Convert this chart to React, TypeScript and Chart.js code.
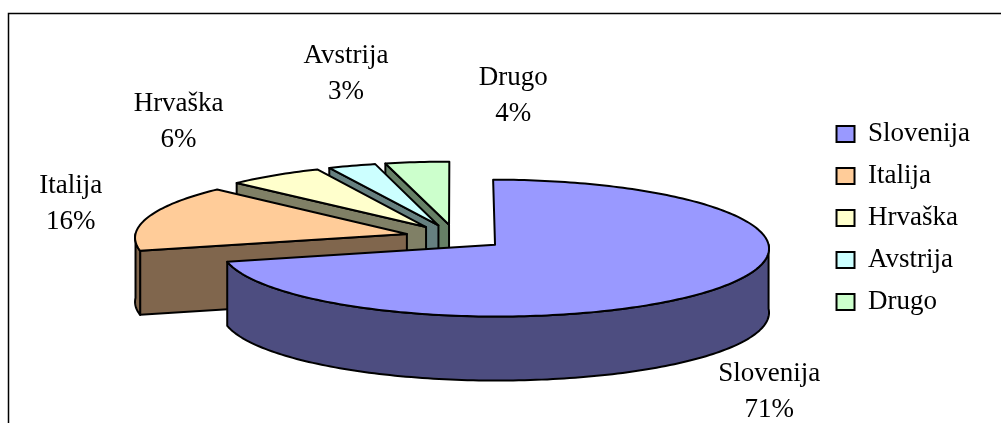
import { useEffect, useRef } from "react";
import { Chart, registerables } from "chart.js";

Chart.register(...registerables);

const categories = ["Slovenija", "Italija", "Hrvaška", "Avstrija", "Drugo"];
const shares = [71, 16, 6, 3, 4];
const topColors = ["#9999FF", "#FFCC99", "#FFFFCC", "#CCFFFF", "#CCFFCC"];
const wallColors = ["#4D4D80", "#80664D", "#808066", "#668080", "#668066"];
// Distance of each label from the middle of its slice's rim.
const labelNudgeX = [50, -77, -96, -6, 96];
const labelNudgeY = [104, -14, -53, -92, -66];

const FONT = '27px "Liberation Serif"';
const RADIUS_X = 272;
const RADIUS_Y = 67.5;
const EXPLODE = 0.184;
const DEPTH = 64;
const PERSPECTIVE = 0.05;
const CENTER_DROP = 19;

type Pt = [number, number];

const pie3d = {
  id: "pie3d",
  beforeDraw(chart: any) {
    const { ctx } = chart;
    ctx.save();
    ctx.strokeStyle = "#000";
    ctx.lineWidth = 1.5;
    ctx.strokeRect(8.5, 13.5, 1200, 600);
    ctx.restore();
  },
  beforeDatasetsDraw(chart: any) {
    const { ctx } = chart;
    const arcs = chart.getDatasetMeta(0).data as any[];

    const mapper = (arc: any) => {
      const mid = (arc.startAngle + arc.endAngle) / 2;
      const ox = EXPLODE * Math.cos(mid);
      const oy = EXPLODE * Math.sin(mid);
      const cx = arc.x;
      const cy = arc.y + CENTER_DROP;
      return (r: number, t: number, drop = 0): Pt => {
        const wx = ox + r * Math.cos(t);
        const wy = oy + r * Math.sin(t);
        const f = 1 / (1 - PERSPECTIVE * wy);
        return [cx + wx * RADIUS_X * f, cy + wy * RADIUS_Y * f + drop];
      };
    };

    const trace = (pts: Pt[], fill: string) => {
      ctx.beginPath();
      pts.forEach((p, i) => (i ? ctx.lineTo(p[0], p[1]) : ctx.moveTo(p[0], p[1])));
      ctx.closePath();
      ctx.fillStyle = fill;
      ctx.fill();
      ctx.stroke();
    };

    const rim = (a: number, b: number, at: (r: number, t: number, d?: number) => Pt, drop = 0) => {
      const n = Math.max(2, Math.ceil(Math.abs(b - a) / 0.02));
      const out: Pt[] = [];
      for (let i = 0; i <= n; i++) out.push(at(1, a + ((b - a) * i) / n, drop));
      return out;
    };

    ctx.save();
    ctx.strokeStyle = "#000";
    ctx.lineWidth = 2;
    ctx.lineJoin = "round";

    // Back slices first, so the large front slice overlaps them.
    const order = arcs.map((_, i) => i).reverse();
    for (const i of order) {
      const arc = arcs[i];
      const at = mapper(arc);
      const a = arc.startAngle;
      const b = arc.endAngle;
      const wall = wallColors[i];

      if (Math.cos(a) < 0) {
        trace([at(0, a), at(1, a), at(1, a, DEPTH), at(0, a, DEPTH)], wall);
      }
      if (Math.cos(b) > 0) {
        trace([at(0, b), at(1, b), at(1, b, DEPTH), at(0, b, DEPTH)], wall);
      }
      const fa = Math.max(a, 0);
      const fb = Math.min(b, Math.PI);
      if (fb > fa) {
        trace([...rim(fa, fb, at), ...rim(fb, fa, at, DEPTH)], wall);
      }
      trace([at(0, a), ...rim(a, b, at)], topColors[i]);
    }

    // Two-line labels: name, then share.
    ctx.fillStyle = "#000";
    ctx.font = FONT;
    ctx.textAlign = "center";
    ctx.textBaseline = "middle";
    arcs.forEach((arc, i) => {
      const mid = (arc.startAngle + arc.endAngle) / 2;
      const [x, y] = mapper(arc)(1, mid);
      const lx = x + labelNudgeX[i];
      const ly = y + labelNudgeY[i];
      ctx.fillText(categories[i], lx, ly - 18);
      ctx.fillText(`${shares[i]}%`, lx, ly + 18);
    });
    ctx.restore();
    return false;
  },
};

export default function App() {
  const ref = useRef<HTMLCanvasElement>(null);
  useEffect(() => {
    const chart = new Chart(ref.current!, {
      type: "pie",
      data: {
        labels: categories,
        datasets: [
          {
            data: shares,
            backgroundColor: topColors,
            borderColor: "#000",
            borderWidth: 2,
          },
        ],
      },
      options: {
        animation: false,
        responsive: false,
        layout: { padding: { left: 89, right: 21, top: 13, bottom: 0 } },
        plugins: {
          tooltip: { enabled: false },
          legend: {
            position: "right",
            labels: {
              boxWidth: 18,
              boxHeight: 16,
              padding: 15,
              color: "#000",
              font: { family: "Liberation Serif", size: 27 },
            },
          },
        },
      },
      plugins: [pie3d],
    } as any);
    return () => chart.destroy();
  }, []);
  return (
    <div style={{ position: "fixed", left: 0, top: 0, width: 1001, height: 423, background: "#fff" }}>
      <canvas ref={ref} width={1001} height={423} style={{ display: "block" }} />
    </div>
  );
}
